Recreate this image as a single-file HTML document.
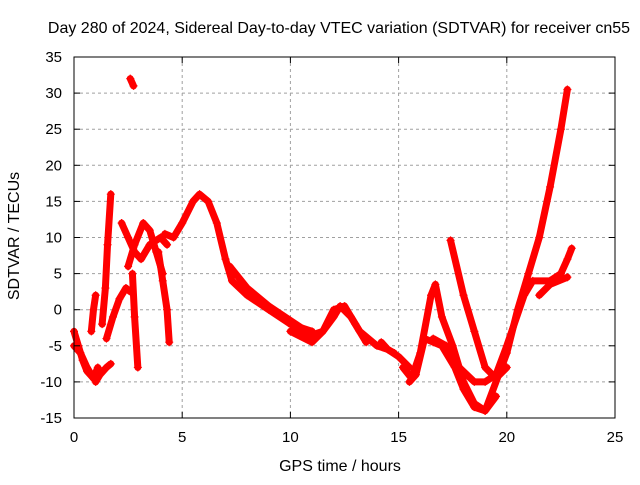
<!DOCTYPE html>
<html><head><meta charset="utf-8"><style>
body{margin:0;background:#fff;width:640px;height:480px;overflow:hidden}
svg text{font-family:"Liberation Sans",sans-serif;font-size:15px;fill:#000}
svg text.big{font-size:16px}
</style></head><body>
<svg id="chart" width="640" height="480" xmlns="http://www.w3.org/2000/svg">
<rect width="640" height="480" fill="#fff"/>
<g id="grid"></g>
<g id="series"></g>
<rect x="74" y="57" width="541" height="361" fill="none" stroke="#000" stroke-width="1"/>
<g id="ticks"></g>
<text class="big" x="339" y="33" text-anchor="middle">Day 280 of 2024, Sidereal Day-to-day VTEC variation (SDTVAR) for receiver cn55</text>
<text class="big" x="340" y="471" text-anchor="middle">GPS time / hours</text>
<text class="big" transform="translate(19,236) rotate(-90)" text-anchor="middle">SDTVAR / TECUs</text>
</svg>
<script>
const xTicks=[0,5,10,15,20,25];
const yTicks=[-15,-10,-5,0,5,10,15,20,25,30,35];
const trackX=[
[0,0.2,0.4,0.6,0.9],
[0,0.3,0.6,0.9,1.1],
[0.8,0.9,1.0],
[1.0,1.2,1.5,1.7],
[1.3,1.45,1.55,1.7],
[1.5,1.8,2.1,2.4,2.6],
[2.2,2.5,2.8,3.1,3.5,4.0,4.3],
[2.5,2.8,3.2,3.5,3.8,4.1],
[2.7,2.8,2.95],
[3.9,4.1,4.3,4.4],
[2.6,2.75],
[4.2,4.6,5.0,5.5,5.8,6.2,6.6,7.0,7.3,8,9,10,11],
[7.2,8,9,10,11],
[10,11,11.5,12,12.3,12.8,13.2,13.6,14,14.5,15,15.5],
[10,11,11.5,12,12.5,13,13.5],
[14.2,14.5,14.8],
[15.2,15.6,16,16.5,16.7,17,17.5,18,18.5,19,19.5],
[15.5,15.8,16.2,16.6,17.0,17.6,18,18.5,19],
[17.4,18,18.5,19,19.5,20],
[16.6,17.2,17.8,18.5,19,19.5],
[19,20,20.5,21,21.5,22,22.5,22.8],
[19.5,20,20.8,21.2,22,22.5,22.8,23],
[21.5,22,22.8]
];
const trackY=[
[-3,-5,-7,-8.5,-9.5],
[-5,-6,-8,-9.5,-8],
[-3,0,2],
[-10,-9,-8,-7.5],
[-2,3,9,16],
[-4,-1,1.5,3,2.5],
[12,10,8,7,9,10,9],
[6,9,12,11,8,5],
[5,-1,-8],
[8,4,0,-4.5],
[32,31],
[10.5,10,12,15,16,15,12,7,4,2,0,-2,-3],
[6,3,0.5,-1.5,-3.5],
[-2,-3.5,-3,-1,0.5,-1,-3,-4,-5,-5.5,-6.5,-8],
[-3,-4.5,-3,0,0.5,-2,-4.5],
[-4.5,-5.5,-6],
[-8,-9.5,-6,2,3.5,-1,-5,-10,-13,-14,-12],
[-10,-9,-4,-4.5,-5,-8,-11,-13.5,-14],
[9.6,2,-3,-8,-9.5,-8],
[-4,-5,-8,-10,-10,-9],
[-14,-6,0,5,10,17,25,30.5],
[-9,-5,2,4,4,5,7,8.5],
[2,3.5,4.5]
];
const X=h=>74+h*21.64, Y=v=>57+(35-v)*7.22;
const NS="http://www.w3.org/2000/svg";
const grid=document.getElementById('grid'),ticks=document.getElementById('ticks'),ser=document.getElementById('series');
function mk(tag,attrs,parent){const e=document.createElementNS(NS,tag);for(const k in attrs)e.setAttribute(k,attrs[k]);parent.appendChild(e);return e;}
xTicks.forEach(t=>{
 if(t>0&&t<25){const l=mk('line',{x1:X(t),x2:X(t),y1:57,y2:418,stroke:'#a0a0a0','stroke-dasharray':'3,3'},grid);
 
 }
 mk('line',{x1:X(t),x2:X(t),y1:418,y2:412,stroke:'#000'},ticks);
 mk('line',{x1:X(t),x2:X(t),y1:57,y2:63,stroke:'#000'},ticks);
 const tx=mk('text',{x:X(t),y:442,'text-anchor':'middle'},ticks);tx.textContent=t;
 
 
});
yTicks.forEach(t=>{
 if(t>-15&&t<35){const l=mk('line',{x1:74,x2:615,y1:Y(t),y2:Y(t),stroke:'#a0a0a0','stroke-dasharray':'3,3'},grid);
 
 }
 mk('line',{x1:74,x2:80,y1:Y(t),y2:Y(t),stroke:'#000'},ticks);
 mk('line',{x1:615,x2:609,y1:Y(t),y2:Y(t),stroke:'#000'},ticks);
 const tx=mk('text',{x:62,y:Y(t)+5,'text-anchor':'end'},ticks);tx.textContent=t;
 
 
});
trackX.forEach((xs,i)=>{
 const ys=trackY[i];
 const pts=xs.map((x,j)=>X(x)+','+Y(ys[j])).join(' ');
 const pl=mk('polyline',{points:pts,fill:'none',stroke:'#ff0000','stroke-width':7,'stroke-linejoin':'round','stroke-linecap':'round'},ser);
 
 
 xs.forEach((x,j)=>{
  const px=X(x),py=Y(ys[j]);
  const p=mk('path',{d:`M${px-4},${py}H${px+4}M${px},${py-4}V${py+4}`,stroke:'#ff0000','stroke-width':1.2},ser);
  
  
 });
});
</script>
</body></html>
